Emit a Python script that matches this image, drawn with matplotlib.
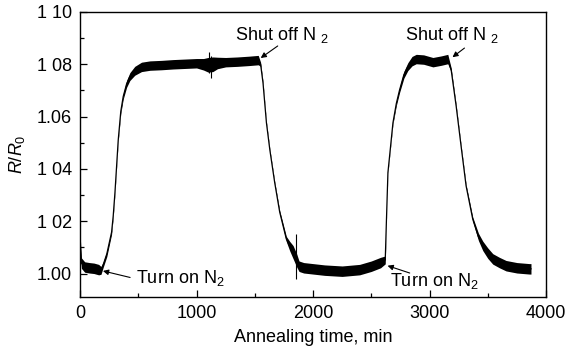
import matplotlib
matplotlib.use("Agg")
import matplotlib.pyplot as plt
import numpy as np

plt.rcParams['font.family'] = ['Liberation Sans', 'DejaVu Sans']
plt.rcParams['mathtext.fontset'] = 'custom'
plt.rcParams['mathtext.rm'] = 'Liberation Sans'
plt.rcParams['mathtext.it'] = 'Liberation Sans:italic'

# ---- data ----
time_min = [0, 12, 40, 80, 120, 160, 180, 200, 230, 271, 285, 300, 328, 350, 371,
            400, 428, 470, 528, 600, 700, 800, 900, 1000, 1060, 1100, 1140, 1180,
            1250, 1350, 1450, 1530, 1550, 1571, 1600, 1629, 1671, 1714, 1771, 1800,
            1829, 1860, 1880, 1920, 2000, 2100, 2250, 2400, 2500, 2580, 2620, 2630,
            2643, 2686, 2715, 2743, 2780, 2814, 2850, 2886, 2950, 3029, 3100, 3157,
            3186, 3229, 3271, 3314, 3371, 3420, 3457, 3500, 3543, 3600, 3657, 3750,
            3857, 3871]
r_ratio = [1.0120, 1.0040, 1.0025, 1.0022, 1.0020, 1.0015, 1.0012, 1.0035, 1.0075,
           1.0158, 1.0220, 1.0310, 1.0510, 1.0620, 1.0677, 1.0725, 1.0753, 1.0775,
           1.0790, 1.0795, 1.0797, 1.0800, 1.0802, 1.0804, 1.0800, 1.0798, 1.0800,
           1.0805, 1.0808, 1.0810, 1.0813, 1.0816, 1.0800, 1.0728, 1.0577, 1.0474,
           1.0348, 1.0235, 1.0132, 1.0105, 1.0082, 1.0050, 1.0028, 1.0022, 1.0018,
           1.0013, 1.0009, 1.0015, 1.0028, 1.0042, 1.0052, 1.0200, 1.0386, 1.0576,
           1.0650, 1.0702, 1.0760, 1.0791, 1.0812, 1.0820, 1.0818, 1.0808, 1.0814,
           1.0820, 1.0778, 1.0639, 1.0487, 1.0335, 1.0208, 1.0140, 1.0106, 1.0078,
           1.0056, 1.0042, 1.0030, 1.0022, 1.0018, 1.0018]
r_spread = [0.0040, 0.0020, 0.0020, 0.0020, 0.0020, 0.0020, 0.0015, 0.0010, 0.0010,
            0.0008, 0.0006, 0.0005, 0.0005, 0.0008, 0.0010, 0.0013, 0.0015, 0.0017,
            0.0018, 0.0018, 0.0018, 0.0018, 0.0018, 0.0018, 0.0022, 0.0028, 0.0028,
            0.0022, 0.0018, 0.0018, 0.0018, 0.0018, 0.0008, 0.0005, 0.0004, 0.0004,
            0.0004, 0.0006, 0.0010, 0.0018, 0.0025, 0.0025, 0.0020, 0.0020, 0.0020,
            0.0020, 0.0020, 0.0020, 0.0020, 0.0020, 0.0015, 0.0003, 0.0003, 0.0005,
            0.0008, 0.0010, 0.0013, 0.0015, 0.0018, 0.0018, 0.0018, 0.0018, 0.0018,
            0.0018, 0.0008, 0.0005, 0.0004, 0.0005, 0.0008, 0.0014, 0.0018, 0.0020,
            0.0020, 0.0020, 0.0020, 0.0020, 0.0020, 0.0020]

spike_t = [1110, 1125, 1857]
spike_lo = [1.0765, 1.0748, 0.9980]
spike_hi = [1.0848, 1.0830, 1.0151]

x_ticks = [0, 1000, 2000, 3000, 4000]
x_tick_labels = ["0", "1000", "2000", "3000", "4000"]
y_ticks = [1.00, 1.02, 1.04, 1.06, 1.08, 1.10]
y_tick_labels = ["1.00", "1 02", "1 04", "1.06", "1 08", "1 10"]

annotations = [
    ("Shut off N $_2$", (1551, 1.0824), (1697, 1.0870), (1736, 1.0912)),
    ("Shut off N $_2$", (3197, 1.0827), (3300, 1.0862), (3192, 1.0912)),
    ("Turn on N$_2$", (197, 1.0010), (430, 0.9985), (857, 0.9983)),
    ("Turn on N$_2$", (2640, 1.0030), (2830, 1.0002), (3043, 0.9972)),
]

# ---- figure ----
fig = plt.figure(figsize=(5.69, 3.52), dpi=100)
ax = fig.add_axes([0.1406, 0.1560, 0.8190, 0.8100])

t = np.array(time_min)
r = np.array(r_ratio)
s = np.array(r_spread)
ax.fill_between(t, r - s, r + s, color='black', linewidth=0.0)
ax.plot(t, r, color='black', linewidth=0.9)
ax.vlines(spike_t, spike_lo, spike_hi, color='black', linewidth=0.8)

fs = 13
for text, tip, tail, pos in annotations:
    ax.annotate('', xy=tip, xytext=tail,
                arrowprops=dict(arrowstyle='-|>', color='black', lw=0.8,
                                mutation_scale=8, shrinkA=0, shrinkB=0))
    ax.text(pos[0], pos[1], text, ha='center', va='center', fontsize=fs)

ax.set_xlim(0, 4000)
ax.set_ylim(0.991, 1.100)
ax.set_xticks(x_ticks)
ax.set_xticklabels(x_tick_labels)
ax.set_xticks([500, 1500, 2500, 3500], minor=True)
ax.set_yticks(y_ticks)
ax.set_yticklabels(y_tick_labels)
ax.set_yticks([1.01, 1.03, 1.05, 1.07, 1.09], minor=True)
ax.tick_params(which='both', direction='in', labelsize=fs, width=0.9)
ax.tick_params(which='major', length=5)
ax.tick_params(which='minor', length=3)
ax.tick_params(axis='y', pad=6)
ax.tick_params(axis='x', pad=6)
for sp in ax.spines.values():
    sp.set_linewidth(1.0)

ax.set_xlabel("Annealing time, min", fontsize=fs, labelpad=5)
ax.set_ylabel("$R/R_0$", fontsize=fs, labelpad=7)

fig.savefig("out.png", dpi=100)
